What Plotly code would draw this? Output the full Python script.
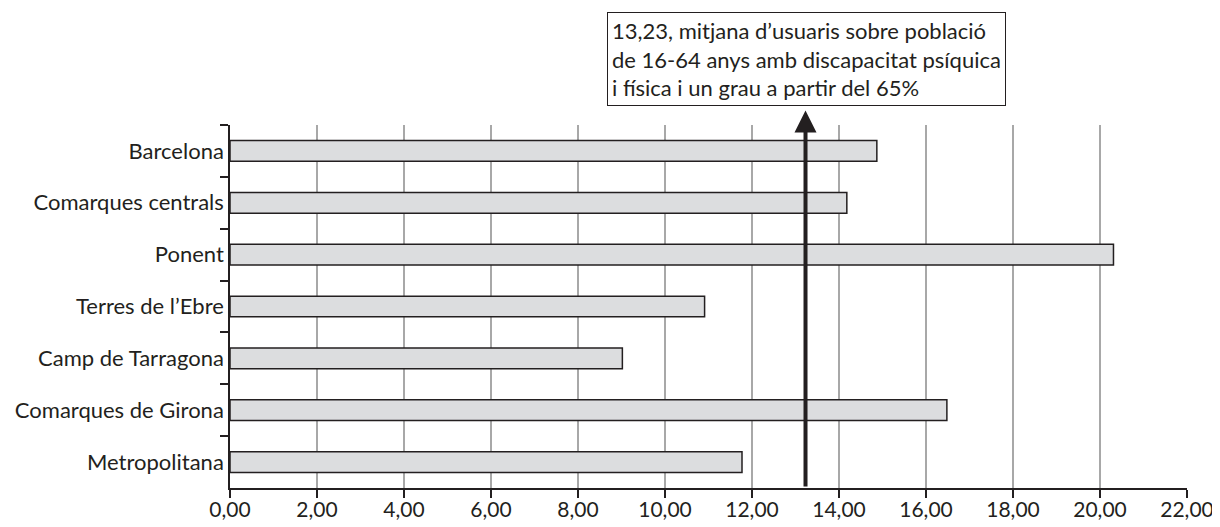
import plotly.graph_objects as go

regions = ["Barcelona", "Comarques centrals", "Ponent", "Terres de l\u2019Ebre",
           "Camp de Tarragona", "Comarques de Girona", "Metropolitana"]
values = [14.87, 14.18, 20.31, 10.91, 9.02, 16.48, 11.77]
mean_value = 13.23
mean_label = ("13,23, mitjana d\u2019usuaris sobre població<br>"
              "de 16-64 anys amb discapacitat psíquica<br>"
              "i física i un grau a partir del 65%")
x_ticks = [0, 2, 4, 6, 8, 10, 12, 14, 16, 18, 20, 22]

FONT = "Lato"
INK = "#231f20"

fig = go.Figure()
fig.add_trace(go.Bar(
    x=values, y=regions, orientation="h",
    marker=dict(color="#dcdddf", line=dict(color=INK, width=1.5)),
    width=0.4, hoverinfo="skip",
))

fig.add_annotation(
    x=mean_value, y=1.04, xref="x", yref="y domain",
    ax=mean_value, ay=0, axref="x", ayref="y domain",
    showarrow=True, arrowhead=2, arrowsize=1.1, arrowwidth=4, arrowcolor=INK,
    text="",
)
fig.add_annotation(
    x=0.394, y=1.311, xref="paper", yref="paper",
    xanchor="left", yanchor="top", align="left",
    text=mean_label, showarrow=False,
    font=dict(family=FONT, size=22, color=INK),
    bordercolor=INK, borderwidth=1, borderpad=4, bgcolor="white",
)

fig.update_layout(
    width=1212, height=519,
    margin=dict(l=222, r=33, t=117, b=39),
    paper_bgcolor="white", plot_bgcolor="white",
    separators=",.",
    showlegend=False,
    font=dict(family=FONT, size=20, color=INK),
    xaxis=dict(
        range=[0, 22], tickvals=x_ticks, tickformat=".2f", automargin=False,
        showgrid=True, gridcolor="#a8a8a8", gridwidth=1.5,
        showline=True, linecolor=INK, linewidth=1.5,
        ticks="outside", ticklen=8, tickcolor=INK, tickwidth=1.5,
        zeroline=False, tickfont=dict(size=21), ticklabelstandoff=-6,
    ),
    yaxis=dict(
        autorange="reversed", tickson="boundaries", automargin=False,
        showline=True, linecolor=INK, linewidth=1.5,
        ticks="outside", ticklen=8, tickcolor=INK, tickwidth=1.5,
        showgrid=False, tickfont=dict(size=22),
    ),
)

fig.write_html("out.html")
